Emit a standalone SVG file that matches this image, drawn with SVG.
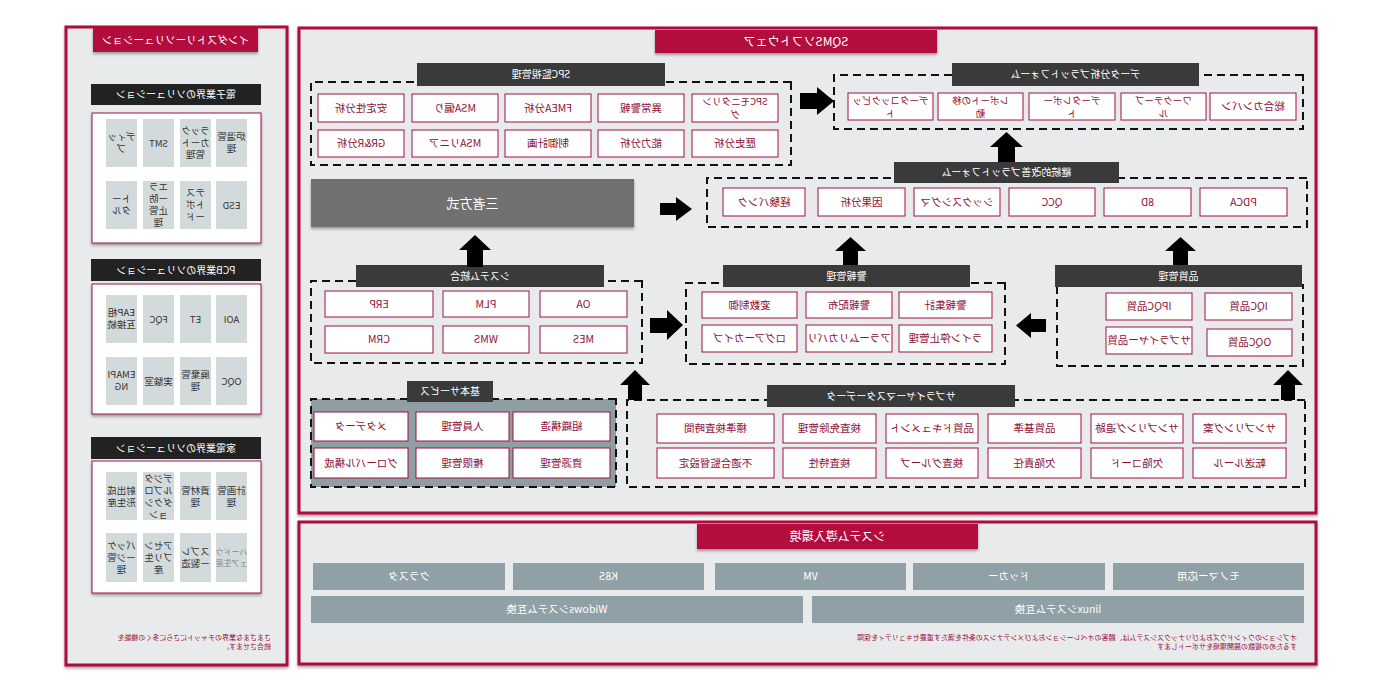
<svg xmlns="http://www.w3.org/2000/svg" width="1380" height="700" viewBox="0 0 1380 700">
<defs>
<filter id="sh" x="-10%" y="-20%" width="120%" height="150%"><feDropShadow dx="0" dy="2" stdDeviation="1.5" flood-color="#000" flood-opacity="0.35"/></filter>
<style>
text{font-family:'Noto Sans CJK JP','Noto Sans',sans-serif}
.panel{fill:#e8eaec;stroke:#ad0a3c;stroke-width:3}
.tab{fill:#b20a3e}
.tabt{fill:#fff;font-size:12px;text-anchor:middle}
.hdr{fill:#3a3a3a}
.shdr{fill:#222}
.hdrt{fill:#fff;font-size:10px;text-anchor:middle}
.dash{fill:none;stroke:#111;stroke-width:2;stroke-dasharray:8 5}
.item{fill:#fff;stroke:#9b1240;stroke-width:1}
.it{fill:#8e1038;font-size:10.5px;text-anchor:middle}
.it2{fill:#8e1038;font-size:9.5px;text-anchor:middle}
.wbox{fill:#fff;stroke:#9b1240;stroke-width:1}
.side{fill:#d3dadb}
.st{fill:#333;font-size:9.5px;text-anchor:middle}
.dep{fill:#8fa0a6}
.dt{fill:#fff;font-size:10.5px;text-anchor:middle}
.note{fill:#9b1240;font-size:7px}
.arrow{fill:#000}
</style>
</defs>
<rect width="1380" height="700" fill="#fff"/>
<g transform="matrix(-1 0 0 1 1380 0)">

<!-- Panels -->
<g id="main-panel">
<rect class="panel" x="64" y="28" width="1017" height="485" filter="url(#sh)"/>
<rect class="tab" x="443" y="30" width="282" height="23" filter="url(#sh)"/>
<text class="tabt" x="584" y="46">SQMSソフトウェア</text>
</g>
<g id="deploy-panel">
<rect class="panel" x="64" y="522" width="1017" height="142" filter="url(#sh)"/>
<rect class="tab" x="402" y="524" width="281" height="25" filter="url(#sh)"/>
<text class="tabt" x="542.5" y="541">システム導入環境</text>
</g>
<g id="side-panel">
<rect class="panel" x="1093" y="27" width="221" height="638" filter="url(#sh)"/>
<rect class="tab" x="1122" y="28" width="165" height="24" filter="url(#sh)"/>
<text class="tabt" x="1204.5" y="44" style="font-size:10.5px">インダストリーソリューション</text>
</g>

<!-- SPC -->
<g id="spc">
<rect class="dash" x="589" y="82" width="480" height="83"/>
<rect class="hdr" x="715" y="63" width="248" height="23"/>
<text class="hdrt" x="839" y="78">SPC監視管理</text>
<g id="spc1"><rect class="item" x="602" y="94" width="86" height="28"/><text class="it2" x="645" y="104.5">SPCモニタリン<tspan x="645" dy="13.5">グ</tspan></text></g>
<g id="spc2"><rect class="item" x="696" y="94" width="86" height="28"/><text class="it" x="739" y="112">異常警報</text></g>
<g id="spc3"><rect class="item" x="789" y="94" width="86" height="28"/><text class="it" x="832" y="112">FMEA分析</text></g>
<g id="spc4"><rect class="item" x="882" y="94" width="86" height="28"/><text class="it" x="925" y="112">MSA偏り</text></g>
<g id="spc5"><rect class="item" x="976" y="94" width="86" height="28"/><text class="it" x="1019" y="112">安定性分析</text></g>
<g id="spc6"><rect class="item" x="602" y="130" width="86" height="27"/><text class="it" x="645" y="147">歴史分析</text></g>
<g id="spc7"><rect class="item" x="696" y="130" width="86" height="27"/><text class="it" x="739" y="147">能力分析</text></g>
<g id="spc8"><rect class="item" x="789" y="130" width="86" height="27"/><text class="it" x="832" y="147">制御計画</text></g>
<g id="spc9"><rect class="item" x="882" y="130" width="86" height="27"/><text class="it" x="925" y="147">MSAリニア</text></g>
<g id="spc10"><rect class="item" x="976" y="130" width="86" height="27"/><text class="it" x="1019" y="147">GR&amp;R分析</text></g>
</g>

<!-- Data analysis -->
<g id="data">
<rect class="dash" x="77" y="75" width="469" height="54"/>
<rect class="hdr" x="181" y="63" width="247" height="23"/>
<text class="hdrt" x="304.5" y="78">データ分析プラットフォーム</text>
<g id="data1"><rect class="item" x="84" y="93" width="86" height="27"/><text class="it" x="127" y="110">総合カンバン</text></g>
<g id="data2"><rect class="item" x="174" y="93" width="85" height="27"/><text class="it2" x="216.5" y="103.5">ワークテーブ<tspan x="216.5" dy="13.5">ル</tspan></text></g>
<g id="data3"><rect class="item" x="265" y="93" width="86" height="27"/><text class="it2" x="308" y="103.5">データレポー<tspan x="308" dy="13.5">ト</tspan></text></g>
<g id="data4"><rect class="item" x="357" y="93" width="85" height="27"/><text class="it2" x="399.5" y="103.5">レポートの移<tspan x="399.5" dy="13.5">動</tspan></text></g>
<g id="data5"><rect class="item" x="447" y="93" width="85" height="27"/><text class="it2" x="489.5" y="103.5">データコックピッ<tspan x="489.5" dy="13.5">ト</tspan></text></g>
</g>

<!-- Continuous improvement -->
<g id="improve">
<rect class="dash" x="73" y="178" width="600" height="49"/>
<rect class="hdr" x="261" y="162" width="225" height="21"/>
<text class="hdrt" x="373.5" y="176">継続的改善プラットフォーム</text>
<g id="imp1"><rect class="item" x="93" y="188" width="87" height="28"/><text class="it" x="136.5" y="206">PDCA</text></g>
<g id="imp2"><rect class="item" x="189" y="188" width="87" height="28"/><text class="it" x="232.5" y="206">8D</text></g>
<g id="imp3"><rect class="item" x="285" y="188" width="86" height="28"/><text class="it" x="328" y="206">QCC</text></g>
<g id="imp4"><rect class="item" x="380" y="188" width="86" height="28"/><text class="it" x="423" y="206">シックスシグマ</text></g>
<g id="imp5"><rect class="item" x="475" y="188" width="87" height="28"/><text class="it" x="518.5" y="206">因果分析</text></g>
<g id="imp6"><rect class="item" x="575" y="188" width="82" height="28"/><text class="it" x="616" y="206">経験バンク</text></g>
</g>

<!-- Three-party -->
<g id="sansha">
<rect x="746" y="179" width="323" height="48" fill="#717171" filter="url(#sh)"/>
<text x="907.5" y="208" fill="#fff" font-size="13" text-anchor="middle">三者方式</text>
</g>

<!-- System integration -->
<g id="integration">
<rect class="dash" x="738" y="281" width="331" height="82"/>
<rect class="hdr" x="776" y="265" width="248" height="22"/>
<text class="hdrt" x="900" y="280">システム統合</text>
<g id="int1"><rect class="item" x="753" y="291" width="87" height="26"/><text class="it" x="796.5" y="308">OA</text></g>
<g id="int2"><rect class="item" x="851" y="291" width="86" height="26"/><text class="it" x="894" y="308">PLM</text></g>
<g id="int3"><rect class="item" x="947" y="291" width="108" height="26"/><text class="it" x="1001" y="308">ERP</text></g>
<g id="int4"><rect class="item" x="753" y="326" width="87" height="27"/><text class="it" x="796.5" y="343">MES</text></g>
<g id="int5"><rect class="item" x="851" y="326" width="86" height="27"/><text class="it" x="894" y="343">WMS</text></g>
<g id="int6"><rect class="item" x="947" y="326" width="108" height="27"/><text class="it" x="1001" y="343">CRM</text></g>
</g>

<!-- Alarm -->
<g id="alarm">
<rect class="dash" x="375" y="283" width="319" height="81"/>
<rect class="hdr" x="410" y="265" width="247" height="22"/>
<text class="hdrt" x="533.5" y="280">警報管理</text>
<g id="al1"><rect class="item" x="388" y="292" width="93" height="26"/><text class="it" x="434.5" y="309">警報集計</text></g>
<g id="al2"><rect class="item" x="488" y="292" width="86" height="26"/><text class="it" x="531" y="309">警報配布</text></g>
<g id="al3"><rect class="item" x="583" y="292" width="95" height="26"/><text class="it" x="630.5" y="309">変数制御</text></g>
<g id="al4"><rect class="item" x="388" y="325" width="93" height="27"/><text class="it" x="434.5" y="342">ライン停止管理</text></g>
<g id="al5"><rect class="item" x="488" y="325" width="86" height="27"/><text class="it" x="531" y="342">アラームリカバリ</text></g>
<g id="al6"><rect class="item" x="583" y="325" width="95" height="27"/><text class="it" x="630.5" y="342">ログアーカイブ</text></g>
</g>

<!-- Quality -->
<g id="quality">
<rect class="dash" x="77" y="285" width="246" height="81"/>
<rect class="hdr" x="78" y="265" width="247" height="22"/>
<text class="hdrt" x="201.5" y="280">品質管理</text>
<g id="q1"><rect class="item" x="88" y="293" width="87" height="27"/><text class="it" x="131.5" y="310">IQC品質</text></g>
<g id="q2"><rect class="item" x="188" y="293" width="86" height="27"/><text class="it" x="231" y="310">IPQC品質</text></g>
<g id="q3"><rect class="item" x="88" y="329" width="85" height="27"/><text class="it" x="130.5" y="346">OQC品質</text></g>
<g id="q4"><rect class="item" x="188" y="327" width="86" height="27"/><text class="it" x="231" y="344">サプライヤー品質</text></g>
</g>

<!-- Basic services -->
<g id="basic">
<rect x="764" y="399" width="305" height="88" fill="#8e9ea3"/>
<rect class="dash" x="764" y="399" width="305" height="88"/>
<rect class="hdr" x="887" y="381" width="86" height="21"/>
<text class="hdrt" x="930" y="395">基本サービス</text>
<g id="b1"><rect class="item" x="770" y="412" width="97" height="29"/><text class="it" x="818.5" y="430">組織構造</text></g>
<g id="b2"><rect class="item" x="871" y="412" width="93" height="29"/><text class="it" x="917.5" y="430">人員管理</text></g>
<g id="b3"><rect class="item" x="972" y="412" width="94" height="29"/><text class="it" x="1019" y="430">メタデータ</text></g>
<g id="b4"><rect class="item" x="770" y="448" width="97" height="30"/><text class="it" x="818.5" y="467">資源管理</text></g>
<g id="b5"><rect class="item" x="871" y="448" width="93" height="30"/><text class="it" x="917.5" y="467">権限管理</text></g>
<g id="b6"><rect class="item" x="972" y="448" width="94" height="30"/><text class="it" x="1019" y="467">グローバル構成</text></g>
</g>

<!-- Supplier master data -->
<g id="master">
<rect class="dash" x="75" y="400" width="678" height="87"/>
<rect class="hdr" x="365" y="385" width="248" height="22"/>
<text class="hdrt" x="489" y="400">サプライヤーマスターデータ</text>
<g id="m1"><rect class="item" x="94" y="414" width="93" height="29"/><text class="it" x="140.5" y="432">サンプリング案</text></g>
<g id="m2"><rect class="item" x="197" y="414" width="92" height="29"/><text class="it" x="243" y="432">サンプリング追跡</text></g>
<g id="m3"><rect class="item" x="299" y="414" width="93" height="29"/><text class="it" x="345.5" y="432">品質基準</text></g>
<g id="m4"><rect class="item" x="402" y="414" width="92" height="29"/><text class="it" x="448" y="432">品質ドキュメント</text></g>
<g id="m5"><rect class="item" x="504" y="414" width="93" height="29"/><text class="it" x="550.5" y="432">検査免除管理</text></g>
<g id="m6"><rect class="item" x="606" y="414" width="117" height="29"/><text class="it" x="664.5" y="432">標準検査時間</text></g>
<g id="m7"><rect class="item" x="94" y="448" width="93" height="30"/><text class="it" x="140.5" y="467">転送ルール</text></g>
<g id="m8"><rect class="item" x="197" y="448" width="92" height="30"/><text class="it" x="243" y="467">欠陥コード</text></g>
<g id="m9"><rect class="item" x="299" y="448" width="93" height="30"/><text class="it" x="345.5" y="467">欠陥責任</text></g>
<g id="m10"><rect class="item" x="402" y="448" width="92" height="30"/><text class="it" x="448" y="467">検査グループ</text></g>
<g id="m11"><rect class="item" x="504" y="448" width="93" height="30"/><text class="it" x="550.5" y="467">検査特性</text></g>
<g id="m12"><rect class="item" x="606" y="448" width="117" height="30"/><text class="it" x="664.5" y="467">不適合監督設定</text></g>
</g>

<!-- Deployment -->
<g id="deploy">
<g id="d1"><rect class="dep" x="76" y="563" width="191" height="27"/><text class="dt" x="171.5" y="580">モノマー応用</text></g>
<g id="d2"><rect class="dep" x="275" y="563" width="192" height="27"/><text class="dt" x="371" y="580">ドッカー</text></g>
<g id="d3"><rect class="dep" x="474" y="563" width="191" height="27"/><text class="dt" x="569.5" y="580">VM</text></g>
<g id="d4"><rect class="dep" x="676" y="563" width="191" height="27"/><text class="dt" x="771.5" y="580">K8S</text></g>
<g id="d5"><rect class="dep" x="875" y="563" width="192" height="27"/><text class="dt" x="971" y="580">クラスタ</text></g>
<g id="d6"><rect class="dep" x="76" y="596" width="492" height="27"/><text class="dt" x="322" y="613">linuxシステム互換</text></g>
<g id="d7"><rect class="dep" x="577" y="596" width="492" height="27"/><text class="dt" x="823" y="613">Widowsシステム互換</text></g>
<text class="note" x="83" y="640">オプションのウィンドウズおよびリナックスシステムは、顧客のオペレーションおよびメンテナンスの条件を満たす重要セキュリティを保障<tspan x="83" dy="9">するための複数の展開環境をサポートします</tspan></text>
</g>

<!-- Sidebar sections -->
<g id="electronics">
<rect class="shdr" x="1119" y="84" width="170" height="21"/>
<text class="hdrt" x="1204" y="98">電子業界のソリューション</text>
<rect class="wbox" x="1119" y="113" width="169" height="130" filter="url(#sh)"/>
<rect class="side" x="1133" y="119" width="31" height="48"/><text class="st" x="1148.5" y="140">炉温管<tspan x="1148.5" dy="12">理</tspan></text>
<rect class="side" x="1169" y="119" width="31" height="48"/><text class="st" x="1184.5" y="134">ラック<tspan x="1184.5" dy="12">カート</tspan><tspan x="1184.5" dy="12">管理</tspan></text>
<rect class="side" x="1206" y="119" width="31" height="48"/><text class="st" x="1221.5" y="147">SMT</text>
<rect class="side" x="1243" y="119" width="31" height="48"/><text class="st" x="1258.5" y="140">ディッ<tspan x="1258.5" dy="12">プ</tspan></text>
<rect class="side" x="1133" y="181" width="31" height="48"/><text class="st" x="1148.5" y="209">ESD</text>
<rect class="side" x="1169" y="181" width="31" height="48"/><text class="st" x="1184.5" y="196">テス<tspan x="1184.5" dy="12">トボ</tspan><tspan x="1184.5" dy="12">ード</tspan></text>
<rect class="side" x="1206" y="181" width="31" height="48"/><text class="st" x="1221.5" y="190">エラ<tspan x="1221.5" dy="12">ー防</tspan><tspan x="1221.5" dy="12">止管</tspan><tspan x="1221.5" dy="12">理</tspan></text>
<rect class="side" x="1243" y="181" width="31" height="48"/><text class="st" x="1258.5" y="202">トー<tspan x="1258.5" dy="12">タル</tspan></text>
</g>
<g id="pcb">
<rect class="shdr" x="1119" y="259" width="170" height="22"/>
<text class="hdrt" x="1204" y="274">PCB業界のソリューション</text>
<rect class="wbox" x="1119" y="284" width="169" height="130" filter="url(#sh)"/>
<rect class="side" x="1133" y="295" width="31" height="48"/><text class="st" x="1148.5" y="323">AOI</text>
<rect class="side" x="1169" y="295" width="31" height="48"/><text class="st" x="1184.5" y="323">ET</text>
<rect class="side" x="1206" y="295" width="31" height="48"/><text class="st" x="1221.5" y="323">FQC</text>
<rect class="side" x="1243" y="295" width="31" height="48"/><text class="st" x="1258.5" y="316">EAP相<tspan x="1258.5" dy="12">互接続</tspan></text>
<rect class="side" x="1133" y="357" width="31" height="48"/><text class="st" x="1148.5" y="385">OQC</text>
<rect class="side" x="1169" y="357" width="31" height="48"/><text class="st" x="1184.5" y="378">廃棄管<tspan x="1184.5" dy="12">理</tspan></text>
<rect class="side" x="1206" y="357" width="31" height="48"/><text class="st" x="1221.5" y="385">実験室</text>
<rect class="side" x="1243" y="357" width="31" height="48"/><text class="st" x="1258.5" y="378">EMAPI<tspan x="1258.5" dy="12">NG</tspan></text>
</g>
<g id="appliance">
<rect class="shdr" x="1119" y="437" width="170" height="22"/>
<text class="hdrt" x="1204" y="452">家電業界のソリューション</text>
<rect class="wbox" x="1119" y="461" width="169" height="132" filter="url(#sh)"/>
<rect class="side" x="1133" y="472" width="31" height="48"/><text class="st" x="1148.5" y="494">計画管<tspan x="1148.5" dy="12">理</tspan></text>
<rect class="side" x="1169" y="472" width="31" height="48"/><text class="st" x="1184.5" y="494">資材管<tspan x="1184.5" dy="12">理</tspan></text>
<rect class="side" x="1206" y="472" width="31" height="48"/><text class="st" x="1221.5" y="482">デジタ<tspan x="1221.5" dy="12">ルプロ</tspan><tspan x="1221.5" dy="12">ダクシ</tspan><tspan x="1221.5" dy="12">ョン</tspan></text>
<rect class="side" x="1243" y="472" width="31" height="48"/><text class="st" x="1258.5" y="494">射出成<tspan x="1258.5" dy="12">形生産</tspan></text>
<rect class="side" x="1133" y="533" width="31" height="49"/><text class="st" x="1148.5" y="555" style="font-size:8px;fill:#888">ハードウ<tspan x="1148.5" dy="11">ェア生産</tspan></text>
<rect class="side" x="1169" y="533" width="31" height="49"/><text class="st" x="1184.5" y="555">スプレ<tspan x="1184.5" dy="12">ー製造</tspan></text>
<rect class="side" x="1206" y="533" width="31" height="49"/><text class="st" x="1221.5" y="549">アセン<tspan x="1221.5" dy="12">ブリ生</tspan><tspan x="1221.5" dy="12">産</tspan></text>
<rect class="side" x="1243" y="533" width="31" height="49"/><text class="st" x="1258.5" y="549">パッケ<tspan x="1258.5" dy="12">ージ管</tspan><tspan x="1258.5" dy="12">理</tspan></text>
</g>
<g id="side-note">
<text class="note" x="1109" y="640">さまざまな業界のチャットにさらに多くの機能を<tspan x="1109" dy="9">統合させます。</tspan></text>
</g>

<!-- Connectors -->
<g id="connectors" class="arrow">
<polygon points="580,93 563,93 563,87 546,101 563,115 563,109 580,109"/>
<polygon points="720,203 704,203 704,197 688,209 704,221 704,215 720,215"/>
<polygon points="897,267 897,250 889,250 905,235 921,250 913,250 913,267"/>
<polygon points="730,318 713,318 713,310 697,325 713,340 713,333 730,333"/>
<polygon points="365,162 365,147 357,147 373.5,132 390,147 382,147 382,162"/>
<polygon points="522,265 522,251 514,251 529.5,237 545,251 537,251 537,265"/>
<polygon points="192,265 192,251 184,251 199.5,237 215,251 207,251 207,265"/>
<polygon points="334,319 349,319 349,313 364,325.5 349,338 349,332 334,332"/>
<polygon points="738,400 738,385 730,385 745,370 760,385 752,385 752,400"/>
<polygon points="85,400 85,385 77,385 92,370 107,385 99,385 99,400"/>
</g>
</g>
</svg>
